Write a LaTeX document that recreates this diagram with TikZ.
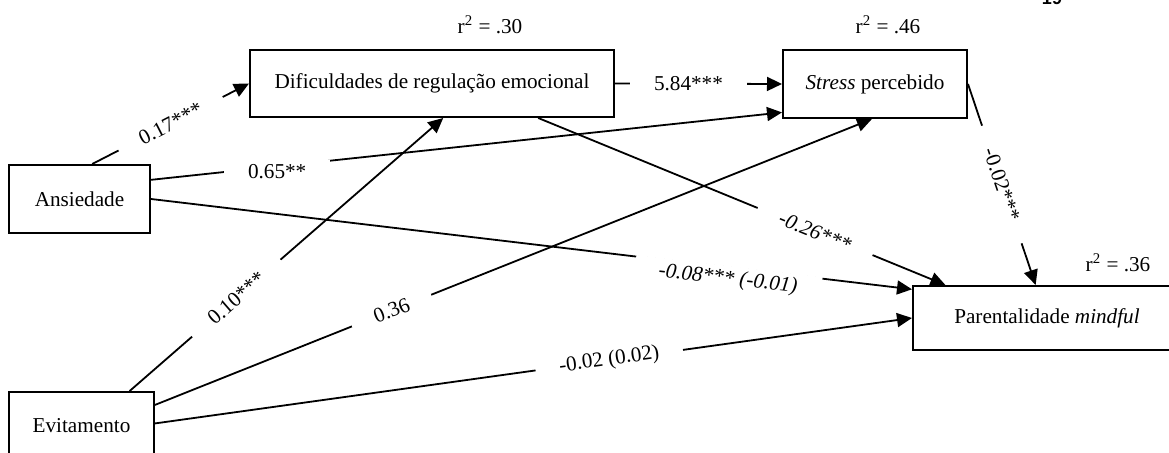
\documentclass[tikz,border=0pt]{standalone}
\usepackage{fontspec}
\setmainfont{Liberation Serif}
\newfontfamily\pagefont{Liberation Sans}
\usetikzlibrary{arrows.meta}

\begin{document}
\begin{tikzpicture}[
  x=0.5pt, y=-0.5pt,
  font=\fontsize{10.6}{12.7}\selectfont,
  var/.style={draw, line width=1pt, inner sep=0pt, minimum height=34pt},
  link/.style={line width=0.9pt, -{Triangle[length=7.5pt,width=7pt]}},
  coef/.style={fill=white, inner xsep=12pt, inner ysep=2pt},
  rsq/.style={inner sep=0pt}
]
\useasboundingbox (0,0) rectangle (1169,453);

\node[var, minimum width=182pt, minimum height=33.5pt] (dif) at (432,83.5) {Dificuldades de regulação emocional};
\node[var, minimum width=92pt] (stress) at (875,84) {\textit{Stress} percebido};
\node[var, minimum width=70.5pt] (ans) at (79.5,199) {Ansiedade};
\node[var, minimum width=72.5pt] (evit) at (81.5,426) {Evitamento};
\node[var, minimum width=134pt, minimum height=32pt] (par) at (1047,318) {Parentalidade \textit{mindful}};

\node[rsq] (rdif) at (490,25) {r\textsuperscript{2} = .30};
\node[rsq] (rstress) at (888,25) {r\textsuperscript{2} = .46};
\node[rsq] (rpar) at (1118,263) {r\textsuperscript{2} = .36};
\node[anchor=base, font={\pagefont\bfseries\fontsize{9}{10}\selectfont}] (pg) at (1052,5) {19};

\draw[link] (ans.70) -- node[coef, sloped, pos=0.5] {0.17***} (dif.west);
\draw[link] (ans.15) -- node[coef, pos=0.2, yshift=-2.5pt] {0.65**} (stress.197);
\draw[link] (ans.east) -- node[coef, sloped, pos=0.76, yshift=-6pt] {\itshape -0.08*** (-0.01)} (par.168);
\draw[link] (dif.east) -- node[coef, pos=0.44] {5.84***} (stress.west);
\draw[link] (dif.-18) -- node[coef, sloped, pos=0.68] {\itshape -0.26***} (par.162);
\draw[link] (stress.east) -- node[coef, sloped, pos=0.5] {-0.02***} (par.109);
\draw[link] (evit.36) -- node[coef, sloped, pos=0.34] {0.10***} (dif.-72);
\draw[link] (evit.16) -- node[coef, sloped, pos=0.33] {0.36} (stress.265);
\draw[link] (evit.2) -- node[coef, sloped, pos=0.6] {-0.02 (0.02)} (par.west);

\end{tikzpicture}
\end{document}
